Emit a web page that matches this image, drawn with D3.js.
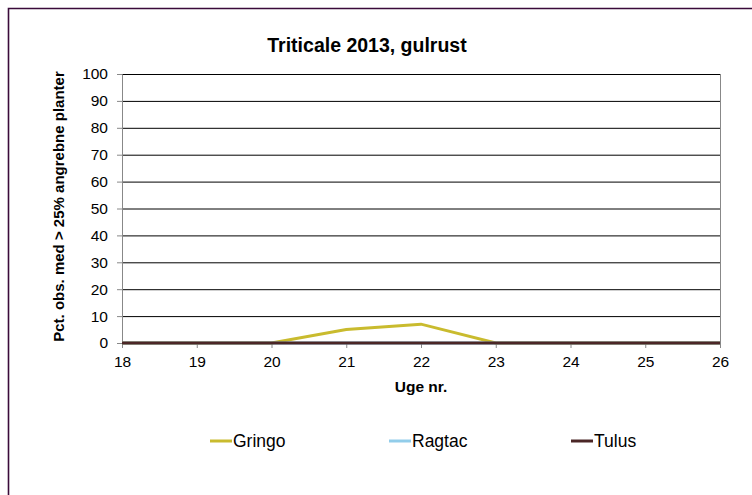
<!DOCTYPE html>
<html>
<head>
<meta charset="utf-8">
<script src="https://cdn.jsdelivr.net/npm/d3@7"></script>
<style>
  body { margin: 0; background: #fff; }
  text { font-family: "Liberation Sans", Arial, sans-serif; }
</style>
</head>
<body>
<script>
// Data
var weeks = [18, 19, 20, 21, 22, 23, 24, 25, 26];
var seriesNames = ["Gringo", "Ragtac", "Tulus"];
var gringo = [0, 0, 0, 5, 7, 0, 0, 0, 0];
var ragtac = [0, 0, 0, 0, 0, 0, 0, 0, 0];
var tulus = [0, 0, 0, 0, 0, 0, 0, 0, 0];
var yTicks = [0, 10, 20, 30, 40, 50, 60, 70, 80, 90, 100];
var colors = ["#c9bb2e", "#92cdea", "#4b2626"];

var W = 752, H = 495;
var margin = { top: 74, left: 122, right: 32, bottom: 152 };
var width = W - margin.left - margin.right;
var height = H - margin.top - margin.bottom;

var svg = d3.select("body").append("svg")
    .attr("width", W)
    .attr("height", H);

// outer frame (only left and top edges visible)
svg.append("path")
    .attr("d", "M8.5," + H + "V8.5H" + W)
    .attr("fill", "none")
    .attr("stroke", "#3a0b3a")
    .attr("stroke-width", 1.6);

var g = svg.append("g")
    .attr("transform", "translate(" + margin.left + "," + margin.top + ")");

var x = d3.scaleLinear().domain([18, 26]).range([0, width]);
var y = d3.scaleLinear().domain([0, 100]).range([height, 0]);

// gridlines
g.selectAll(".grid")
    .data(yTicks.slice(1))
    .enter().append("line")
    .attr("x1", 0).attr("x2", width)
    .attr("y1", function(d) { return y(d) + 0.5; })
    .attr("y2", function(d) { return y(d) + 0.5; })
    .attr("stroke", "#000")
    .attr("stroke-width", 1);

// right border of plot area
g.append("line")
    .attr("x1", width + 0.5).attr("x2", width + 0.5)
    .attr("y1", 0).attr("y2", height)
    .attr("stroke", "#888");

// y axis
var yAxis = g.append("g")
    .call(d3.axisLeft(y).tickValues(yTicks).tickSize(5).tickPadding(9));
yAxis.select(".domain").attr("stroke", "#888");
yAxis.selectAll(".tick line").attr("stroke", "#888");
yAxis.selectAll("text").attr("font-size", 15.5).attr("fill", "#000");

// x axis
var xAxis = g.append("g")
    .attr("transform", "translate(0," + height + ")")
    .call(d3.axisBottom(x).tickValues(weeks).tickFormat(d3.format("d")).tickSize(5).tickPadding(8));
xAxis.select(".domain").attr("stroke", "#888");
xAxis.selectAll(".tick line").attr("stroke", "#888");
xAxis.selectAll("text").attr("font-size", 15.5).attr("fill", "#000");

// lines
var allSeries = [gringo, ragtac, tulus];
var line = d3.line()
    .x(function(d, i) { return x(weeks[i]); })
    .y(function(d) { return y(d); });

allSeries.forEach(function(s, k) {
    g.append("path")
        .datum(s)
        .attr("d", line)
        .attr("fill", "none")
        .attr("stroke", colors[k])
        .attr("stroke-width", 3);
});

// title
svg.append("text")
    .attr("x", 367).attr("y", 52)
    .attr("text-anchor", "middle")
    .attr("font-size", 19.5)
    .attr("font-weight", "bold")
    .text("Triticale 2013, gulrust");

// axis titles
svg.append("text")
    .attr("x", 421).attr("y", 392)
    .attr("text-anchor", "middle")
    .attr("font-size", 15.5)
    .attr("font-weight", "bold")
    .text("Uge nr.");

svg.append("text")
    .attr("transform", "translate(64," + (margin.top + height / 2 - 2) + ") rotate(-90)")
    .attr("text-anchor", "middle")
    .attr("font-size", 15)
    .attr("font-weight", "bold")
    .text("Pct. obs. med > 25% angrebne planter");

// legend
var legendX = [210, 389, 571];
seriesNames.forEach(function(name, k) {
    var lg = svg.append("g").attr("transform", "translate(" + legendX[k] + ",441)");
    lg.append("line")
        .attr("x1", 0).attr("x2", 22)
        .attr("y1", 0).attr("y2", 0)
        .attr("stroke", colors[k])
        .attr("stroke-width", 3);
    lg.append("text")
        .attr("x", 23).attr("y", 6)
        .attr("font-size", 17.5)
        .text(name);
});
</script>
</body>
</html>
